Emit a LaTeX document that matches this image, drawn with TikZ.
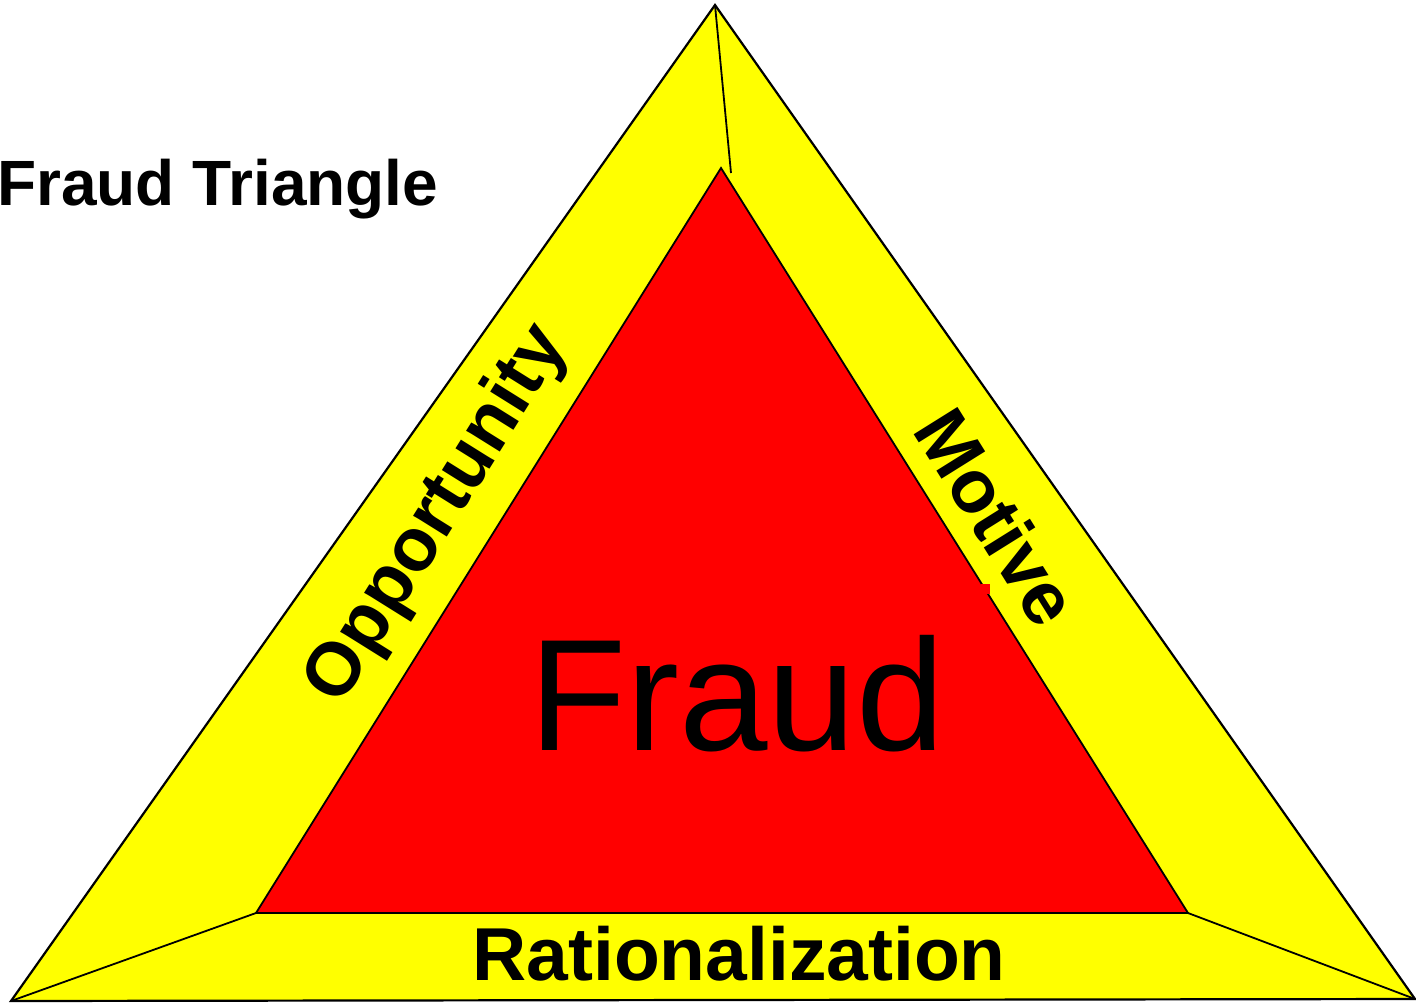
\documentclass[tikz,border=0pt]{standalone}
\usepackage{fontspec}
\setmainfont{Liberation Sans}
\definecolor{bandyellow}{RGB}{255,255,0}
\definecolor{corered}{RGB}{255,0,0}
\begin{document}
\begin{tikzpicture}[x=1pt,y=-1pt,
  edge/.style={draw=black,line width=2.2pt,line join=miter},
  thin edge/.style={draw=black,line width=1.8pt},
  label/.style={inner sep=0pt,font=\fontsize{75}{80}\selectfont\bfseries}]
\useasboundingbox (0,0) rectangle (1416,1002);

% corners of the outer and inner triangles
\coordinate (OT) at (715,5);
\coordinate (OL) at (11,1001);
\coordinate (OR) at (1415,999);
\coordinate (IT) at (721,168);
\coordinate (IL) at (256,913);
\coordinate (IR) at (1188,913);
\coordinate (ITx) at (731,173);

% outer yellow triangle
\fill[bandyellow] (OT) -- (OL) -- (OR) -- cycle;
\draw[edge] (OT) -- (OL) -- (OR) -- cycle;

% inner red triangle
\fill[corered] (IT) -- (IL) -- (IR) -- cycle;
\draw[thin edge] (IT) -- (IL) -- (IR) -- cycle;
\fill[corered] (981,584) rectangle (990,594);

% bevel lines joining the corners
\draw[thin edge] (OT) -- (ITx);
\draw[thin edge] (IL) -- (OL);
\draw[thin edge] (IR) -- (OR);

% labels
\node[inner sep=0pt,anchor=base west,font=\fontsize{64}{70}\selectfont\bfseries] (title) at (-3,205) {Fraud Triangle};
\node[inner sep=0pt,anchor=base west,font=\fontsize{159}{165}\selectfont] (fraud) at (529,750) {Fraud};
\node[label,anchor=base] (rat) at (739,980) {Rationalization};
\node[label,rotate=58] (opp) at (438,515) {Opportunity};
\node[label,rotate=-58] (mot) at (997,517) {Motive};
\end{tikzpicture}
\end{document}
